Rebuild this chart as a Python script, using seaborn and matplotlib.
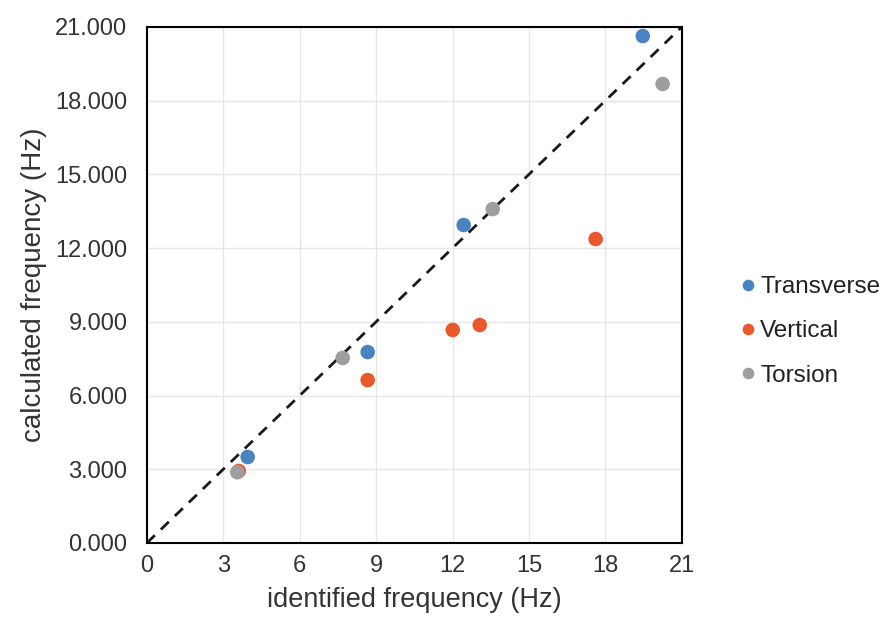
import matplotlib
matplotlib.use("Agg")
import matplotlib.pyplot as plt
import seaborn as sns
import pandas as pd

transverse_x = [19.47, 12.44, 8.67, 3.96]
transverse_y = [20.63, 12.94, 7.77, 3.50]
vertical_x = [17.62, 13.07, 12.01, 8.67, 3.61]
vertical_y = [12.37, 8.87, 8.67, 6.63, 2.93]
torsion_x = [20.25, 13.58, 7.69, 3.55]
torsion_y = [18.68, 13.59, 7.53, 2.88]
series_names = ["Transverse", "Vertical", "Torsion"]
ticks = [0, 3, 6, 9, 12, 15, 18, 21]

df = pd.concat([
    pd.DataFrame({"x": transverse_x, "y": transverse_y, "s": series_names[0]}),
    pd.DataFrame({"x": vertical_x, "y": vertical_y, "s": series_names[1]}),
    pd.DataFrame({"x": torsion_x, "y": torsion_y, "s": series_names[2]}),
])

sns.set_theme(style="white")
plt.rcParams['font.family'] = ['Liberation Sans', 'DejaVu Sans']

fig = plt.figure(figsize=(8.9, 6.26), dpi=100)
ax = fig.add_axes([0.165, 0.1326, 0.601, 0.8243])

ax.plot([0, 21], [0, 21], color="#1a1a1a", linestyle=(0, (4, 3)), linewidth=2, zorder=2)
palette = {"Transverse": "#4a83c2", "Vertical": "#e9582b", "Torsion": "#9e9e9e"}
sns.scatterplot(data=df, x="x", y="y", hue="s", hue_order=series_names, palette=palette,
                s=110, edgecolor="none", ax=ax, zorder=3)

ax.set_xlim(0, 21)
ax.set_ylim(0, 21)
ax.set_xticks(ticks)
ax.set_yticks(ticks)
ax.set_xticklabels([str(t) for t in ticks])
ax.set_yticklabels([f"{t:.3f}" for t in ticks])
ax.grid(True, color="#e6e6e6", linewidth=1)
ax.set_axisbelow(True)
for sp in ax.spines.values():
    sp.set_visible(True)
    sp.set_color("black")
    sp.set_linewidth(1.5)
ax.tick_params(axis="both", labelsize=17, colors="#333333", length=0)
ax.tick_params(axis="y", pad=14)
ax.tick_params(axis="x", pad=9)
ax.set_xlabel("identified frequency (Hz)", fontsize=19.5, color="#333333", labelpad=7)
ax.set_ylabel("calculated frequency (Hz)", fontsize=20, color="#333333", labelpad=6)

leg = ax.legend(loc="center left", bbox_to_anchor=(1.085, 0.41), frameon=False,
                fontsize=17.5, handletextpad=0.05, labelspacing=0.92, markerscale=0.8,
                borderaxespad=0, handlelength=0.9)
for t in leg.get_texts():
    t.set_color("#222222")

fig.savefig("out.png", dpi=100, facecolor="white")
